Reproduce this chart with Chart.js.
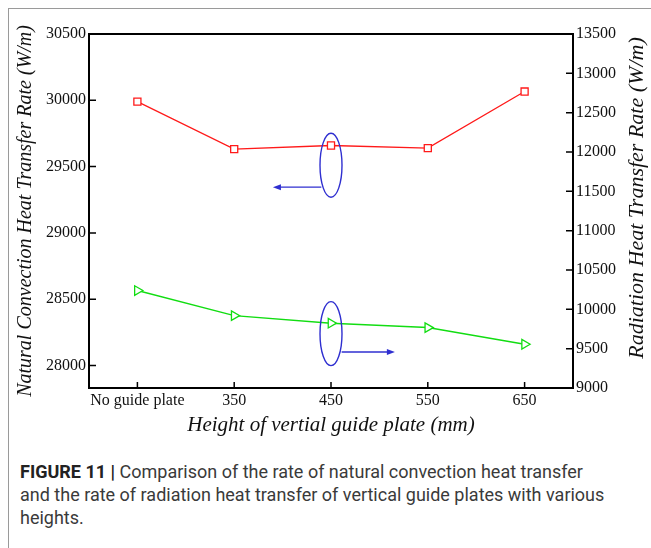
<!DOCTYPE html>
<html>
<head>
<meta charset="utf-8">
<script src="https://cdn.jsdelivr.net/npm/chart.js@4.4.0/dist/chart.umd.min.js"></script>
<style>
  html, body { margin: 0; padding: 0; background: #fff; }
  body { width: 651px; height: 548px; position: relative; overflow: hidden; }
  #frame { position: absolute; left: 8px; top: 8px; width: 700px; height: 600px;
           border-left: 1px solid #9a9a9a; border-top: 1px solid #9a9a9a; }
  #wrap { position: absolute; left: 0; top: 0; width: 651px; height: 445px; }
  #caption { position: absolute; left: 20px; top: 460px; width: 628px;
             font-family: Roboto, "Liberation Sans", sans-serif; font-size: 18px;
             line-height: 23px; color: #3a3a3a; }
  #caption b { color: #222; }
</style>
</head>
<body>
<div id="frame"></div>
<div id="wrap"><canvas id="heatChart" width="651" height="445"></canvas></div>
<div id="caption"><b>FIGURE 11 |</b> Comparison of the rate of natural convection heat transfer<br>and the rate of radiation heat transfer of vertical guide plates with various<br>heights.</div>

<script>
// data
const plateHeights = ['No guide plate', '350', '450', '550', '650'];
const convectionRate = [29990, 29632, 29659, 29639, 30066];   // left axis, W/m
const radiationRate = [10239, 9920, 9824, 9768, 9556];        // right axis, W/m
const leftTicks = [28000, 28500, 29000, 29500, 30000, 30500];
const rightTicks = [9000, 9500, 10000, 10500, 11000, 11500, 12000, 12500, 13000, 13500];

// callouts: ellipse round the series, arrow pointing to its axis (data units)
const callouts = [
  { axis: 'yL', cx: 2, cy: 29510, ax0: 1.90, ax1: 1.40, ay: 29345 },
  { axis: 'yR', cx: 2, cy: 9691, ax0: 2.11, ax1: 2.66, ay: 9458 }
];

const serif = "'Liberation Serif', 'Times New Roman', serif";
const blue = '#2f2fd0';
const rightTitle = 'Radiation Heat Transfer Rate (W/m)';

// box round the plot, inward tick marks, callouts, right title
const frameAndMarks = {
  id: 'frameAndMarks',
  beforeDatasetsDraw(chart) {
    const { ctx, chartArea: a, scales } = chart;
    ctx.save();
    ctx.strokeStyle = '#000';
    ctx.lineWidth = 2;
    ctx.strokeRect(a.left, a.top, a.right - a.left, a.bottom - a.top);
    ctx.lineWidth = 1.5;
    ctx.beginPath();
    leftTicks.forEach(v => {
      const y = scales.yL.getPixelForValue(v);
      ctx.moveTo(a.left, y); ctx.lineTo(a.left + 7, y);
    });
    rightTicks.forEach(v => {
      const y = scales.yR.getPixelForValue(v);
      ctx.moveTo(a.right, y); ctx.lineTo(a.right - 7, y);
    });
    plateHeights.forEach((l, i) => {
      const x = scales.x.getPixelForValue(i);
      ctx.moveTo(x, a.bottom); ctx.lineTo(x, a.bottom - 6);
    });
    ctx.stroke();

    // right axis title reads upward like the left one
    ctx.translate(637, 198);
    ctx.rotate(-Math.PI / 2);
    ctx.font = 'italic 22px ' + serif;
    ctx.fillStyle = '#111';
    ctx.textAlign = 'center';
    ctx.textBaseline = 'middle';
    ctx.fillText(rightTitle, 0, 0);
    ctx.restore();
  },
  afterDatasetsDraw(chart) {
    const { ctx, scales } = chart;
    ctx.save();
    ctx.strokeStyle = blue;
    ctx.fillStyle = blue;
    ctx.lineWidth = 1.4;
    callouts.forEach(c => {
      const ys = scales[c.axis];
      const cx = scales.x.getPixelForValue(c.cx);
      const cy = ys.getPixelForValue(c.cy);
      ctx.beginPath();
      ctx.ellipse(cx, cy, 11, 32, 0, 0, Math.PI * 2);
      ctx.stroke();
      const x0 = scales.x.getPixelForValue(c.ax0);
      const x1 = scales.x.getPixelForValue(c.ax1);
      const y = ys.getPixelForValue(c.ay);
      const dir = Math.sign(x1 - x0);
      ctx.beginPath();
      ctx.moveTo(x0, y); ctx.lineTo(x1 - dir * 5, y);
      ctx.stroke();
      ctx.beginPath();
      ctx.moveTo(x1, y);
      ctx.lineTo(x1 - dir * 8, y - 3);
      ctx.lineTo(x1 - dir * 8, y + 3);
      ctx.closePath();
      ctx.fill();
    });
    ctx.restore();
  }
};

const ctx = document.getElementById('heatChart').getContext('2d');

const heatChart = new Chart(ctx, {
  type: 'line',
  data: {
    labels: plateHeights,
    datasets: [
      {
        label: 'Natural convection',
        data: convectionRate,
        yAxisID: 'yL',
        borderColor: '#ff1a1a',
        borderWidth: 1.3,
        pointStyle: 'rect',
        pointRadius: 5,
        pointBorderWidth: 1.3,
        pointBorderColor: '#ff1a1a',
        pointBackgroundColor: '#fff',
        tension: 0
      },
      {
        label: 'Radiation',
        data: radiationRate,
        yAxisID: 'yR',
        borderColor: '#12dd12',
        borderWidth: 1.5,
        pointStyle: 'triangle',
        rotation: 90,
        pointRadius: 5.5,
        pointBorderWidth: 1.3,
        pointBorderColor: '#12dd12',
        pointBackgroundColor: '#fff',
        tension: 0
      }
    ]
  },
  options: {
    responsive: false,
    animation: false,
    layout: { padding: { top: 34, left: 0, right: 0, bottom: 0 } },
    plugins: {
      legend: { display: false },
      tooltip: { enabled: false }
    },
    scales: {
      x: {
        type: 'category',
        offset: true,
        grid: { display: false, drawTicks: false },
        border: { display: false },
        ticks: { font: { family: serif, size: 16 }, color: '#111', padding: 3, maxRotation: 0, autoSkip: false },
        title: {
          display: true,
          text: 'Height of vertial guide plate (mm)',
          font: { family: serif, size: 21, style: 'italic' },
          color: '#111',
          padding: { top: 0, bottom: 7 }
        },
        afterFit: s => { s.height = 57; }
      },
      yL: {
        type: 'linear',
        position: 'left',
        min: 27830,
        max: 30500,
        afterBuildTicks: axis => { axis.ticks = leftTicks.map(v => ({ value: v })); },
        grid: { display: false, drawTicks: false },
        border: { display: false },
        ticks: { font: { family: serif, size: 16 }, color: '#111', padding: 3, callback: v => String(v) },
        title: {
          display: true,
          text: 'Natural Convection Heat Transfer Rate (W/m)',
          font: { family: serif, size: 20, style: 'italic' },
          color: '#111',
          padding: { top: 14, bottom: 0 }
        },
        afterFit: s => { s.width = 89; }
      },
      yR: {
        type: 'linear',
        position: 'right',
        min: 9000,
        max: 13500,
        afterBuildTicks: axis => { axis.ticks = rightTicks.map(v => ({ value: v })); },
        grid: { display: false, drawTicks: false },
        border: { display: false },
        ticks: { font: { family: serif, size: 16 }, color: '#111', padding: 3, callback: v => String(v) },
        afterFit: s => { s.width = 78; }
      }
    }
  },
  plugins: [frameAndMarks]
});
</script>
</body>
</html>
